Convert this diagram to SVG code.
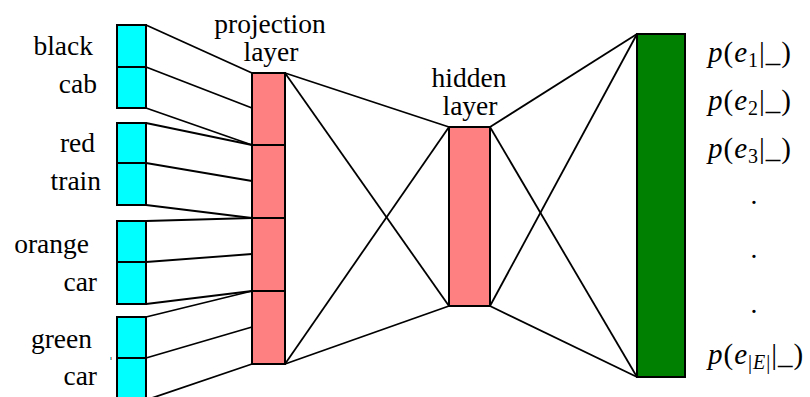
<svg xmlns="http://www.w3.org/2000/svg" width="810" height="397" viewBox="0 0 810 397">
<style>
.lbl{font-family:'Liberation Serif','Times New Roman','DejaVu Serif',serif;font-size:27.5px;fill:#000}
.rl{font-size:29px;letter-spacing:1px}
.in{fill:#00ffff;stroke:#000;stroke-width:2}
.pr{fill:#ff8080;stroke:#000;stroke-width:2}
.out{fill:#008000;stroke:#000;stroke-width:2}
.c line{stroke:#000;stroke-width:1.8}
.it{font-style:italic}
</style>
<rect width="810" height="397" fill="#fff"/>
<g id="connectors" class="c">
<line x1="146" y1="25" x2="252" y2="73"/>
<line x1="146" y1="67" x2="252" y2="108"/>
<line x1="146" y1="108" x2="252" y2="145"/>
<line x1="146" y1="123" x2="252" y2="145"/>
<line x1="146" y1="163" x2="252" y2="181"/>
<line x1="146" y1="205" x2="252" y2="218"/>
<line x1="146" y1="221" x2="252" y2="218"/>
<line x1="146" y1="262" x2="252" y2="254"/>
<line x1="146" y1="304" x2="252" y2="291"/>
<line x1="146" y1="317" x2="252" y2="291"/>
<line x1="146" y1="358" x2="252" y2="327"/>
<line x1="146" y1="400" x2="252" y2="364"/>
<line x1="285" y1="73" x2="449" y2="127"/>
<line x1="285" y1="73" x2="449" y2="306"/>
<line x1="285" y1="364" x2="449" y2="127"/>
<line x1="285" y1="364" x2="449" y2="306"/>
<line x1="490" y1="127" x2="637" y2="34"/>
<line x1="490" y1="306" x2="637" y2="34"/>
<line x1="490" y1="127" x2="637" y2="377"/>
<line x1="490" y1="306" x2="637" y2="377"/>
</g>
<g id="input-black-cab">
<rect class="in" x="117" y="25" width="29" height="42"/>
<rect class="in" x="117" y="67" width="29" height="41"/>
<text class="lbl" x="93" y="55" text-anchor="end">black</text>
<text class="lbl" x="97" y="93" text-anchor="end">cab</text>
</g>
<g id="input-red-train">
<rect class="in" x="117" y="123" width="29" height="40"/>
<rect class="in" x="117" y="163" width="29" height="42"/>
<text class="lbl" x="95" y="152" text-anchor="end">red</text>
<text class="lbl" x="101" y="190" text-anchor="end">train</text>
</g>
<g id="input-orange-car">
<rect class="in" x="117" y="221" width="29" height="41"/>
<rect class="in" x="117" y="262" width="29" height="42"/>
<text class="lbl" x="89" y="253" text-anchor="end">orange</text>
<text class="lbl" x="97" y="291" text-anchor="end">car</text>
</g>
<g id="input-green-car">
<rect class="in" x="117" y="317" width="29" height="41"/>
<rect class="in" x="117" y="358" width="29" height="44"/>
<text class="lbl" x="92" y="348" text-anchor="end">green</text>
<text class="lbl" x="97" y="385" text-anchor="end">car</text>
<rect x="110" y="357" width="1" height="3" fill="#40e0e0"/>
<rect x="111" y="357" width="1" height="3" fill="#f08080"/>
</g>
<g id="projection-layer">
<rect class="pr" x="252" y="73" width="33" height="72"/>
<rect class="pr" x="252" y="145" width="33" height="73"/>
<rect class="pr" x="252" y="218" width="33" height="73"/>
<rect class="pr" x="252" y="291" width="33" height="73"/>
<text class="lbl" x="270" y="33" text-anchor="middle">projection</text>
<text class="lbl" x="271" y="61" text-anchor="middle">layer</text>
</g>
<g id="hidden-layer">
<rect class="pr" x="449" y="127" width="41" height="179"/>
<text class="lbl" x="469" y="87" text-anchor="middle">hidden</text>
<text class="lbl" x="470" y="115" text-anchor="middle">layer</text>
</g>
<g id="output-layer">
<rect class="out" x="637" y="34" width="48" height="343"/>
<text class="lbl rl" x="708" y="62"><tspan class="it">p</tspan>(<tspan class="it">e</tspan><tspan font-size="20" dy="5">1</tspan><tspan dy="-5">|_)</tspan></text>
<text class="lbl rl" x="708" y="110"><tspan class="it">p</tspan>(<tspan class="it">e</tspan><tspan font-size="20" dy="5">2</tspan><tspan dy="-5">|_)</tspan></text>
<text class="lbl rl" x="708" y="158"><tspan class="it">p</tspan>(<tspan class="it">e</tspan><tspan font-size="20" dy="5">3</tspan><tspan dy="-5">|_)</tspan></text>
<text class="lbl" x="754" y="204" text-anchor="middle">.</text>
<text class="lbl" x="754" y="258" text-anchor="middle">.</text>
<text class="lbl" x="754" y="313" text-anchor="middle">.</text>
<text class="lbl rl" x="708" y="364"><tspan class="it">p</tspan>(<tspan class="it">e</tspan><tspan font-size="20" dy="5">|<tspan class="it">E</tspan>|</tspan><tspan dy="-5">|_)</tspan></text>
</g>
</svg>
